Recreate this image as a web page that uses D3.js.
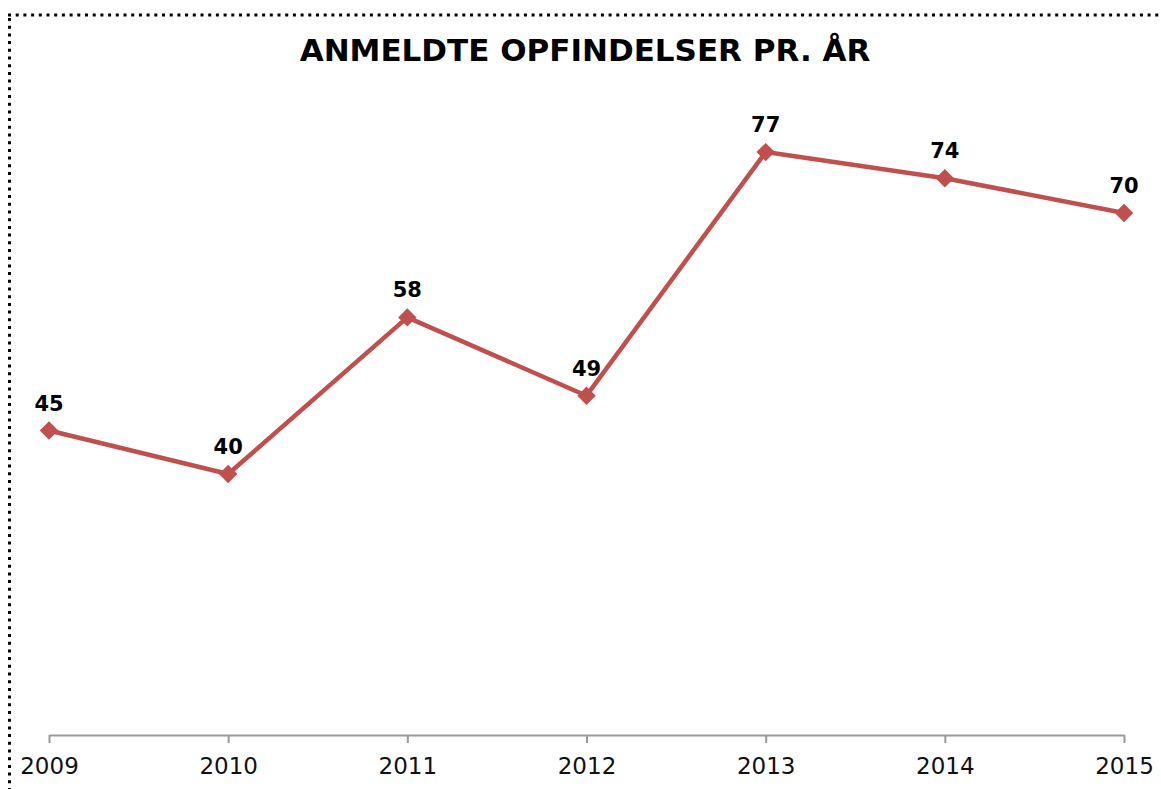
<!DOCTYPE html>
<html>
<head>
<meta charset="utf-8">
<script src="https://cdn.jsdelivr.net/npm/d3@7"></script>
<style>
  body { margin: 0; background: #fff; }
  svg { display: block; }
</style>
</head>
<body>
<div id="chart"></div>
<script>
var years = ["2009", "2010", "2011", "2012", "2013", "2014", "2015"];
var counts = [45, 40, 58, 49, 77, 74, 70];
var title = "ANMELDTE OPFINDELSER PR. ÅR";

var W = 1161, H = 789;
var font = "'DejaVu Sans', Verdana, sans-serif";

var svg = d3.select("#chart")
  .append("svg")
  .attr("width", W)
  .attr("height", H);

// dotted frame (top + left edge)
svg.append("line")
  .attr("x1", 8).attr("y1", 15).attr("x2", W).attr("y2", 15)
  .attr("stroke", "#000").attr("stroke-width", 3)
  .attr("stroke-dasharray", "3,4.7");
svg.append("line")
  .attr("x1", 9.5).attr("y1", 18).attr("x2", 9.5).attr("y2", H)
  .attr("stroke", "#000").attr("stroke-width", 3)
  .attr("stroke-dasharray", "3,4.7");

svg.append("text")
  .attr("x", 585)
  .attr("y", 61)
  .attr("text-anchor", "middle")
  .style("font-family", font)
  .style("font-weight", "bold")
  .style("font-size", "31px")
  .text(title);

var x = d3.scalePoint()
  .domain(years)
  .range([49, 1124]);

var y = d3.scaleLinear()
  .domain([10, 90])
  .range([735, 39]);

var xAxis = svg.append("g")
  .attr("transform", "translate(0,735)")
  .call(d3.axisBottom(x).tickSizeInner(8).tickSizeOuter(0).tickPadding(15));
xAxis.select(".domain").attr("stroke", "#999").attr("stroke-width", 2);
xAxis.selectAll(".tick line").attr("stroke", "#999").attr("stroke-width", 2);
xAxis.selectAll(".tick text")
  .style("font-family", font)
  .style("font-size", "23px")
  .attr("fill", "#111");

var data = years.map(function(d, i) { return { year: d, value: counts[i] }; });

var line = d3.line()
  .x(function(d) { return x(d.year); })
  .y(function(d) { return y(d.value); });

svg.append("path")
  .datum(data)
  .attr("d", line)
  .attr("fill", "none")
  .attr("stroke", "#c0504d")
  .attr("stroke-width", 4.5)
  .attr("stroke-linejoin", "round");

svg.selectAll(".marker")
  .data(data)
  .enter()
  .append("path")
  .attr("class", "marker")
  .attr("d", d3.symbol().type(d3.symbolSquare).size(170))
  .attr("transform", function(d) { return "translate(" + x(d.year) + "," + y(d.value) + ") rotate(45)"; })
  .attr("fill", "#c0504d");

svg.selectAll(".lbl")
  .data(data)
  .enter()
  .append("text")
  .attr("class", "lbl")
  .attr("x", function(d) { return x(d.year); })
  .attr("y", function(d) { return y(d.value) - 20; })
  .attr("text-anchor", "middle")
  .style("font-family", font)
  .style("font-weight", "bold")
  .style("font-size", "21px")
  .attr("fill", "#000")
  .text(function(d) { return d.value; });
</script>
</body>
</html>
